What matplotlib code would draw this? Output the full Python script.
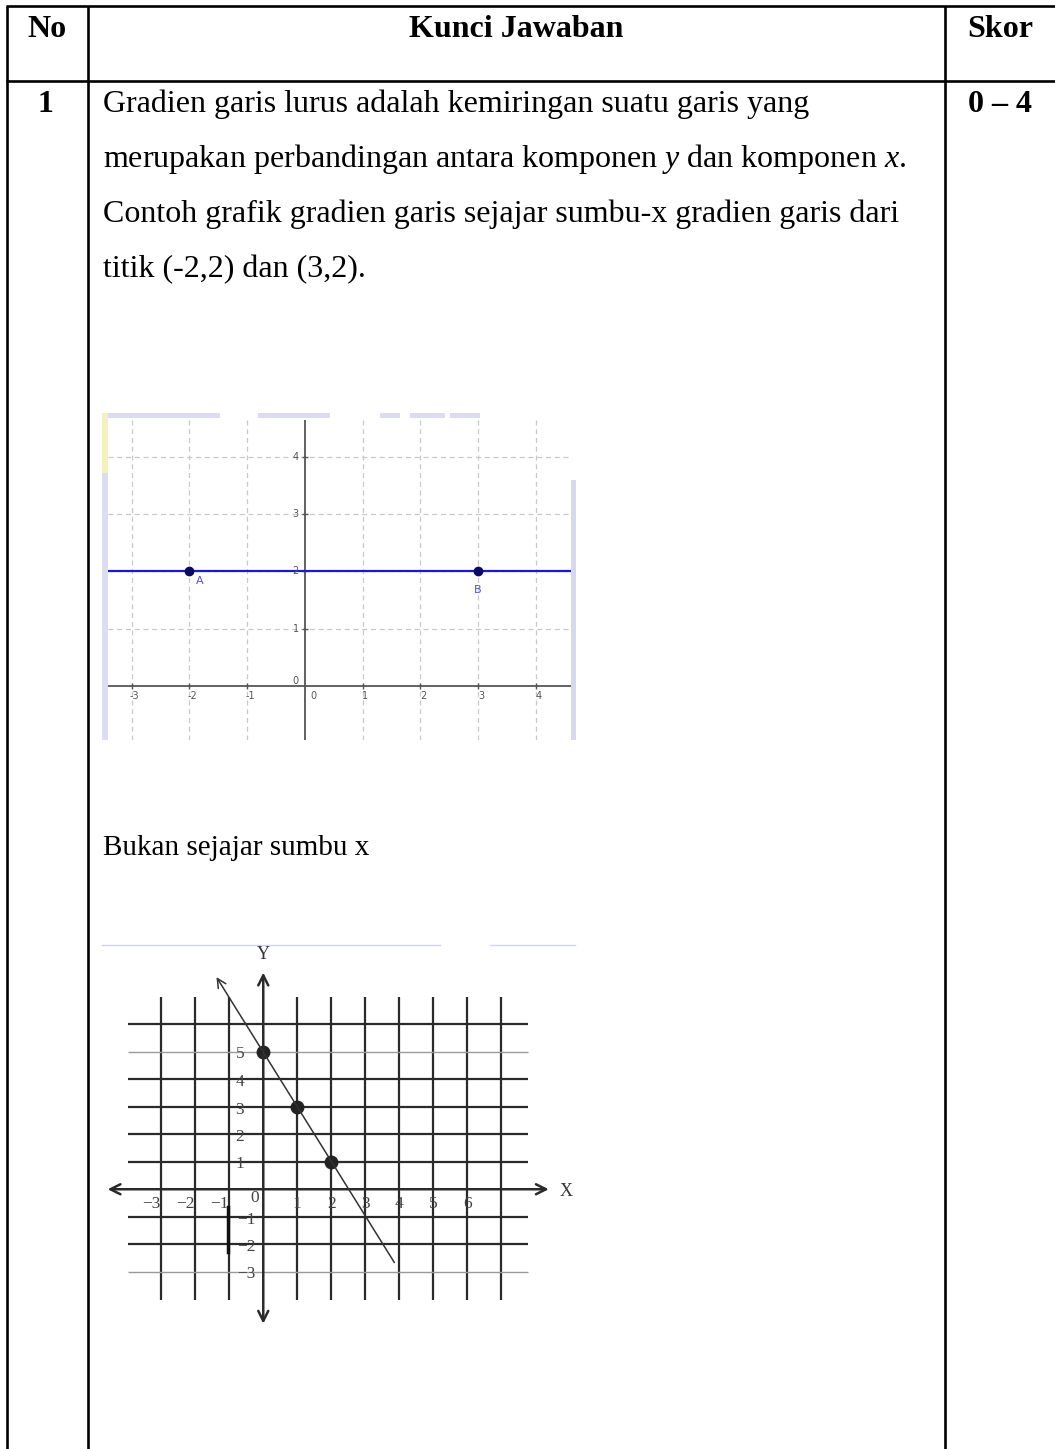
import matplotlib
matplotlib.use("Agg")
import matplotlib.pyplot as plt
from matplotlib.patches import Rectangle

plt.rcParams['font.family'] = ['Liberation Serif', 'DejaVu Serif']
plt.rcParams['mathtext.fontset'] = 'custom'
plt.rcParams['mathtext.rm'] = 'Liberation Serif'
plt.rcParams['mathtext.it'] = 'Liberation Serif:italic'

# table content
headers = ["No", "Kunci Jawaban", "Skor"]
row_no = "1"
row_score = "0 – 4"
answer_lines = [
    "Gradien garis lurus adalah kemiringan suatu garis yang",
    "merupakan perbandingan antara komponen $y$ dan komponen $x$.",
    "Contoh grafik gradien garis sejajar sumbu-x gradien garis dari",
    "titik (-2,2) dan (3,2).",
]
caption2 = "Bukan sejajar sumbu x"

# graph 1: horizontal line through A and B
g1_line_y = 2
g1_pts_x = [-2, 3]
g1_pts_y = [2, 2]
g1_pts_lbl = ["A", "B"]
g1_xticks = [-3, -2, -1, 1, 2, 3, 4]
g1_yticks = [1, 2, 3, 4]

# graph 2: line with negative slope
g2_pts_x = [0, 1, 2]
g2_pts_y = [5, 3, 1]
g2_line_x = [3.9, -1.42]
g2_line_y = [-2.75, 7.8]
g2_vlines = [-3, -2, -1, 1, 2, 3, 4, 5, 6, 7]
g2_hlines = [6, 5, 4, 3, 2, 1, -1, -2, -3]
g2_light = [5, -3]
g2_xlabels = [-3, -2, -1, 1, 2, 3, 4, 5, 6]
g2_ylabels = [5, 4, 3, 2, 1, -1, -2, -3]

W, H = 1055, 1449
fig = plt.figure(figsize=(W / 100, H / 100), dpi=100)
ax0 = fig.add_axes([0, 0, 1, 1])
ax0.set_xlim(0, W)
ax0.set_ylim(H, 0)
ax0.axis('off')

# table borders
lw = 1.9
for x in [7, 88, 945]:
    ax0.plot([x, x], [6, H], color='black', lw=lw, solid_capstyle='butt')
for y in [6, 81]:
    ax0.plot([6, W], [y, y], color='black', lw=lw, solid_capstyle='butt')

ax0.text(47, 37, headers[0], ha='center', va='baseline', fontsize=23, fontweight='bold')
ax0.text(516, 37, headers[1], ha='center', va='baseline', fontsize=23, fontweight='bold')
ax0.text(1000, 37, headers[2], ha='center', va='baseline', fontsize=23, fontweight='bold')
ax0.text(45, 112, row_no, ha='center', va='baseline', fontsize=23, fontweight='bold')
ax0.text(1000, 112, row_score, ha='center', va='baseline', fontsize=23, fontweight='bold')

for i, line in enumerate(answer_lines):
    ax0.text(103, 112 + i * 55, line, ha='left', va='baseline', fontsize=23)
ax0.text(103, 855, caption2, ha='left', va='baseline', fontsize=21)

# faint frame remnants around the first picture
ax0.add_patch(Rectangle((102, 413), 6, 327, color='#dcdcf2', lw=0))
ax0.add_patch(Rectangle((102, 413), 6, 60, color='#f4f0c0', lw=0))
for x0, x1 in [(108, 160), (160, 220), (258, 330), (380, 400), (410, 445), (450, 480)]:
    ax0.add_patch(Rectangle((x0, 413), x1 - x0, 5, color='#dcdcf0', lw=0))
ax0.add_patch(Rectangle((571, 480), 5, 260, color='#d8d8ec', lw=0))
# faint top edge of the second picture
for x0, x1 in [(102, 440), (495, 440 + 95), (490, 575)]:
    pass
ax0.plot([102, 440], [945, 945], color='#d0d6f0', lw=1)
ax0.plot([490, 575], [945, 945], color='#d0d6f0', lw=1)

# ---------- graph 1 ----------
ax1 = fig.add_axes([108 / W, 1 - 740 / H, 463 / W, 320 / H])
ax1.set_xlim(-3.41, 4.61)
ax1.set_ylim(-0.94, 4.64)
ax1.axis('off')
for gx in g1_xticks:
    ax1.axvline(gx, color='#c8c8c8', lw=0.9, ls=(0, (4, 3)))
for gy in g1_yticks:
    ax1.axhline(gy, color='#c8c8c8', lw=0.9, ls=(0, (4, 3)))
ax1.axhline(0, color='#555555', lw=1.3)
ax1.axvline(0, color='#555555', lw=1.3)
ax1.plot(g1_xticks, [0] * len(g1_xticks), ls='none', marker='|', ms=4, color='#555555', mew=1)
ax1.plot([0] * len(g1_yticks), g1_yticks, ls='none', marker='_', ms=4, color='#555555', mew=1)
for gx in g1_xticks:
    ax1.text(gx + 0.05, -0.17, str(gx), ha='center', va='center', fontsize=7,
             color='#555555', family='DejaVu Sans')
ax1.text(0.14, -0.17, "0", ha='center', va='center', fontsize=7, color='#555555', family='DejaVu Sans')
ax1.text(-0.16, 0.09, "0", ha='center', va='center', fontsize=7, color='#555555', family='DejaVu Sans')
for gy in g1_yticks:
    ax1.text(-0.16, gy, str(gy), ha='center', va='center', fontsize=7,
             color='#555555', family='DejaVu Sans')
ax1.axhline(g1_line_y, color='#1a1acc', lw=1.6)
ax1.plot(g1_pts_x, g1_pts_y, ls='none', marker='o', ms=6, color='#0a0a60')
ax1.text(g1_pts_x[0] + 0.18, g1_pts_y[0] - 0.17, g1_pts_lbl[0], ha='center', va='center',
         fontsize=8, color='#5050e0', family='DejaVu Sans')
ax1.text(g1_pts_x[1], g1_pts_y[1] - 0.33, g1_pts_lbl[1], ha='center', va='center',
         fontsize=8, color='#5050e0', family='DejaVu Sans')

# ---------- graph 2 ----------
ax2 = fig.add_axes([103.5 / W, 1 - 1329.5 / H, 472.5 / W, 385 / H])
ax2.set_xlim(-4.7, 9.2)
ax2.set_ylim(-5.1, 8.9)
ax2.axis('off')
for gx in g2_vlines:
    ax2.plot([gx, gx], [-4.02, 7.0], color='#2a2a2a', lw=1.6, solid_capstyle='butt')
for gy in g2_hlines:
    c = '#9a9a9a' if gy in g2_light else '#2a2a2a'
    w = 1.0 if gy in g2_light else 1.6
    ax2.plot([-3.97, 7.8], [gy, gy], color=c, lw=w, solid_capstyle='butt')
ax2.annotate('', xy=(-4.66, 0), xytext=(8.48, 0),
             arrowprops=dict(arrowstyle='<->', color='#2a2a2a', lw=1.8, mutation_scale=18))
ax2.annotate('', xy=(0, 7.98), xytext=(0, -4.99),
             arrowprops=dict(arrowstyle='<->', color='#2a2a2a', lw=1.8, mutation_scale=18))
ax2.plot([-1.03, -1.03], [-0.63, -2.27], color='#111111', lw=2.5)
ax2.annotate('', xy=(g2_line_x[1], g2_line_y[1]), xytext=(g2_line_x[0], g2_line_y[0]),
             arrowprops=dict(arrowstyle='->', color='#333333', lw=1.1, mutation_scale=16))
ax2.plot(g2_pts_x, g2_pts_y, ls='none', marker='o', ms=9, color='#222222')
ax2.text(8.9, -0.08, "X", ha='center', va='center', fontsize=13, color='#333333')
ax2.text(0, 8.55, "Y", ha='center', va='center', fontsize=13, color='#333333')
for gx in g2_xlabels:
    lbl = str(gx).replace('-', '−')
    ax2.text(gx - 0.28 if gx < 0 else gx, -0.55, lbl, ha='center', va='center',
             fontsize=12.5, color='#444444')
ax2.text(-0.25, -0.33, "0", ha='center', va='center', fontsize=12.5, color='#444444')
for gy in g2_ylabels:
    lbl = str(gy).replace('-', '−')
    ax2.text(-0.69 if gy > 0 else -0.5, gy - 0.1, lbl, ha='center', va='center',
             fontsize=12.5, color='#444444')

fig.savefig("out.png", dpi=100)
